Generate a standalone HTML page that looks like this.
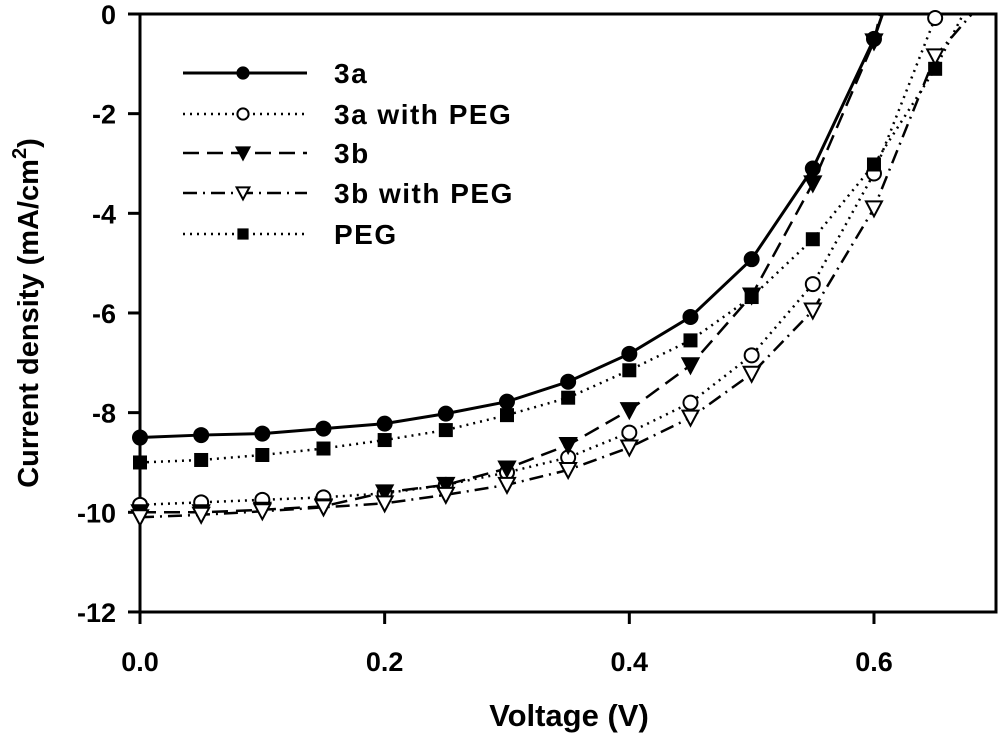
<!DOCTYPE html>
<html><head><meta charset="utf-8"><style>
body{margin:0;background:#fff}
svg text{font-family:"Liberation Sans",Arial,sans-serif;font-weight:bold;fill:#000}
</style></head><body>
<svg id="chart" width="1000" height="736" viewBox="0 0 1000 736">
<defs><clipPath id="clip"><rect x="140" y="14" width="856" height="598"/></clipPath></defs>
<g id="axes"></g>
<g id="series" clip-path="url(#clip)"></g>
<g id="marks"></g>
<g id="legend"></g>
<text x="569" y="726" font-size="31" text-anchor="middle">Voltage (V)</text>
<text transform="translate(38,313) rotate(-90)" font-size="29" text-anchor="middle">Current density (mA/cm<tspan dy="-12" font-size="20">2</tspan><tspan dy="12">)</tspan></text>
</svg>
<script>
const voltages=[0,0.05,0.1,0.15,0.2,0.25,0.3,0.35,0.4,0.45,0.5,0.55,0.6,0.65];
const s3a=[-8.5,-8.45,-8.42,-8.32,-8.22,-8.02,-7.78,-7.38,-6.82,-6.08,-4.92,-3.1,-0.5];
const s3aPEG=[-9.85,-9.8,-9.75,-9.7,-9.62,-9.45,-9.2,-8.9,-8.4,-7.8,-6.85,-5.42,-3.2,-0.08];
const s3b=[-10.0,-10.0,-9.95,-9.88,-9.6,-9.45,-9.12,-8.65,-7.95,-7.05,-5.65,-3.4,-0.55];
const s3bPEG=[-10.1,-10.05,-9.98,-9.9,-9.82,-9.65,-9.45,-9.15,-8.7,-8.1,-7.22,-5.95,-3.9,-0.85];
const sPEG=[-9.0,-8.95,-8.85,-8.72,-8.55,-8.35,-8.05,-7.7,-7.15,-6.55,-5.68,-4.52,-3.02,-1.1];
const endV=[0.607,0.655,0.605,0.68,0.673];
const xTicks=[0.0,0.2,0.4,0.6];
const yTicks=[0,-2,-4,-6,-8,-10,-12];
const names=["3a","3a with PEG","3b","3b with PEG","PEG"];

const NS="http://www.w3.org/2000/svg";
const X=v=>140+v*1223.3;
const Y=j=>14-j*49.83;
function mk(tag,at,parent){const e=document.createElementNS(NS,tag);for(const k in at)e.setAttribute(k,at[k]);parent.appendChild(e);return e;}
const axes=document.getElementById('axes'),ser=document.getElementById('series'),marks=document.getElementById('marks'),leg=document.getElementById('legend');

let fr=mk('rect',{x:140,y:14,width:856,height:598,fill:'none',stroke:'#000','stroke-width':3},axes);


xTicks.forEach(t=>{
 let l=mk('line',{x1:X(t),x2:X(t),y1:612,y2:624,stroke:'#000','stroke-width':3},axes);
 
 
 let tx=mk('text',{x:X(t),y:671,'font-size':27,'text-anchor':'middle'},axes);tx.textContent=t.toFixed(1);
 
 
});
yTicks.forEach(t=>{
 let l=mk('line',{x1:128,x2:140,y1:Y(t),y2:Y(t),stroke:'#000','stroke-width':3},axes);
 
 
 let tx=mk('text',{x:116,y:Y(t)+10,'font-size':27,'text-anchor':'end'},axes);tx.textContent=t;
 
 
});

const data=[s3a,s3aPEG,s3b,s3bPEG,sPEG];
const dashes=['none','2 5','16 8','14 6 2 6','2 5'];
const mtype=['circleF','circleO','triF','triO','square'];
function marker(type,x,y,parent,s){
 let e;
 if(type==='circleF'||type==='circleO') e=mk('circle',{cx:x,cy:y,r:7*s,fill:type==='circleF'?'#000':'#fff',stroke:'#000','stroke-width':2},parent);
 else if(type==='square') e=mk('rect',{x:x-7*s,y:y-7*s,width:14*s,height:14*s,fill:'#000'},parent);
 else e=mk('polygon',{points:`${x-8*s},${y-7*s} ${x+8*s},${y-7*s} ${x},${y+8*s}`,fill:type==='triF'?'#000':'#fff',stroke:'#000','stroke-width':2},parent);
 return e;
}
data.forEach((d,i)=>{
 let pts=d.map((v,k)=>X(voltages[k])+','+Y(v));
 pts.push(X(endV[i])+','+Y(0));
 let p=mk('polyline',{points:pts.join(' '),fill:'none',stroke:'#000','stroke-width':i===0?3:2.5,'stroke-dasharray':dashes[i]},ser);
 
 
});
data.forEach((d,i)=>{
 d.forEach((v,k)=>{
  let m=marker(mtype[i],X(voltages[k]),Y(v),marks,1);
  
  
 });
});
const legY=[73,114,153,193,234];
names.forEach((n,i)=>{
 const y=legY[i];
 let l=mk('line',{x1:183,x2:307,y1:y,y2:y,stroke:'#000','stroke-width':i===0?3:2.5,'stroke-dasharray':dashes[i]},leg);
 
 
 let m=marker(mtype[i],243,y,leg,0.8);
 
 
 let t=mk('text',{x:334,y:y+10,'font-size':28,'letter-spacing':1.5},leg);t.textContent=n;
 
 
});
</script>
</body></html>
